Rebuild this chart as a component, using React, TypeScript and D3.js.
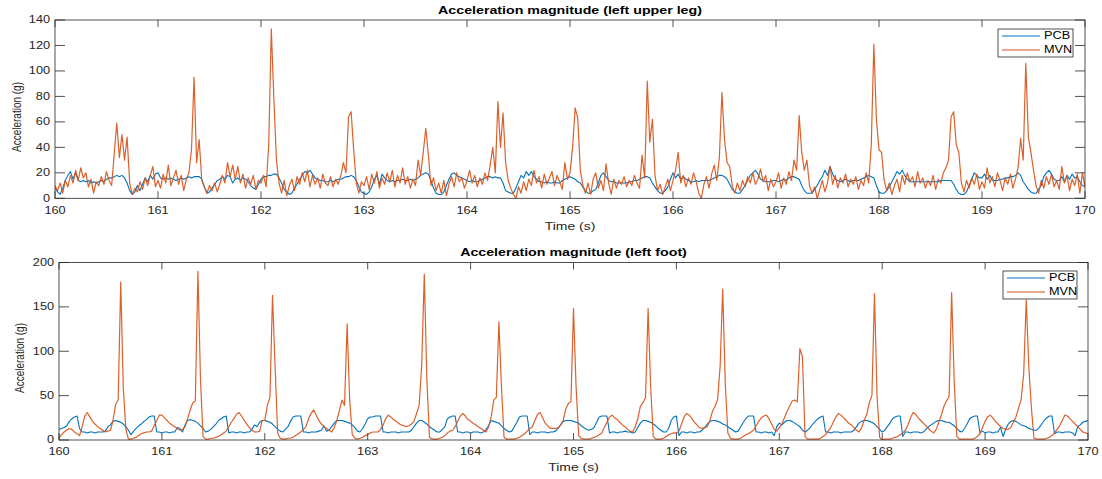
import React from 'react';
import * as d3 from 'd3';

// Sampling: 401 samples from 160 s to 170 s, 0.025 s apart.
const T0 = 160;
const T1 = 170;
const DT = 0.025;

const timeTicks = [160, 161, 162, 163, 164, 165, 166, 167, 168, 169, 170];
const upperLegTicks = [0, 20, 40, 60, 80, 100, 120, 140];
const footTicks = [0, 50, 100, 150, 200];
const seriesNames = ['PCB', 'MVN'];

// Left upper leg, acceleration magnitude (g) — one row per second.
const upperLegPcb = [
  8, 5, 3, 8, 14, 18, 21, 15, 20, 14, 13, 14, 13, 14, 12, 13, 12, 13, 14, 13, 15, 16, 16, 17, 18, 17, 18, 16, 12, 6, 3, 5, 10, 6, 11, 16, 13, 18, 15, 19,
  20, 16, 15, 16, 15, 16, 15, 14, 15, 16, 15, 16, 17, 16, 17, 17, 17, 15, 9, 4, 5, 8, 11, 14, 15, 17, 15, 18, 17, 12, 15, 16, 14, 16, 15, 13, 10, 8, 7, 11,
  15, 17, 17, 18, 18, 19, 19, 16, 12, 7, 5, 3, 4, 8, 11, 15, 18, 21, 20, 22, 19, 16, 15, 14, 14, 13, 13, 14, 13, 14, 15, 15, 16, 17, 17, 18, 17, 14, 9, 5,
  4, 3, 5, 9, 15, 18, 11, 19, 16, 14, 13, 14, 13, 14, 14, 15, 14, 14, 15, 14, 15, 16, 18, 19, 20, 19, 14, 8, 4, 3, 3, 5, 10, 15, 19, 20, 18, 17, 16, 15,
  14, 13, 14, 13, 13, 14, 15, 16, 17, 17, 16, 17, 16, 16, 12, 6, 5, 4, 4, 8, 13, 18, 16, 21, 18, 21, 17, 15, 13, 13, 12, 13, 12, 12, 13, 12, 12, 14, 15, 16,
  17, 16, 15, 13, 12, 9, 6, 4, 4, 6, 7, 12, 18, 20, 17, 14, 13, 13, 12, 12, 12, 12, 12, 13, 13, 14, 14, 15, 16, 17, 17, 16, 12, 9, 6, 4, 4, 6, 9, 15,
  20, 16, 19, 15, 17, 15, 14, 13, 13, 14, 13, 14, 14, 14, 14, 15, 16, 17, 18, 18, 17, 15, 11, 7, 5, 4, 4, 7, 10, 14, 18, 20, 22, 19, 15, 14, 13, 13, 13, 14,
  14, 13, 14, 15, 14, 16, 17, 17, 16, 15, 10, 6, 4, 4, 4, 7, 10, 14, 17, 22, 18, 25, 19, 15, 14, 13, 14, 15, 14, 13, 14, 14, 14, 15, 16, 17, 18, 17, 16, 10,
  5, 4, 4, 6, 9, 13, 17, 21, 19, 22, 18, 15, 13, 13, 13, 13, 13, 13, 13, 13, 13, 13, 13, 13, 14, 14, 14, 14, 14, 11, 7, 4, 3, 3, 5, 10, 15, 20, 18, 16,
  16, 19, 15, 18, 14, 14, 14, 15, 15, 16, 16, 17, 17, 18, 20, 18, 13, 10, 7, 5, 4, 4, 7, 10, 17, 20, 22, 19, 15, 14, 14, 17, 13, 18, 15, 19, 16, 17, 13, 10,
  9,
];

const upperLegMvn = [
  10, 6, 12, 4, 14, 9, 18, 12, 22, 14, 24, 16, 20, 9, 15, 4, 13, 10, 17, 11, 21, 14, 10, 35, 59, 32, 50, 30, 48, 12, 3, 8, 5, 13, 7, 16, 10, 18, 25, 9,
  14, 8, 19, 12, 26, 10, 16, 22, 11, 18, 6, 15, 20, 38, 95, 28, 46, 14, 9, 4, 10, 6, 12, 5, 11, 18, 12, 28, 17, 26, 15, 25, 12, 19, 8, 16, 11, 18, 7, 14,
  12, 18, 9, 42, 133, 78, 30, 12, 4, 14, 2, 10, 15, 6, 17, 11, 20, 13, 22, 9, 18, 11, 16, 8, 19, 12, 10, 17, 9, 15, 11, 18, 28, 20, 64, 68, 38, 12, 4, 13,
  10, 17, 7, 19, 12, 21, 8, 16, 11, 20, 13, 22, 9, 18, 12, 24, 11, 17, 8, 15, 10, 30, 18, 36, 55, 34, 10, 16, 6, 12, 4, 14, 2, 11, 17, 9, 20, 13, 16, 8,
  14, 22, 12, 18, 9, 16, 11, 20, 14, 26, 40, 20, 76, 40, 67, 28, 14, 8, 3, 0, 9, 4, 13, 6, 15, 10, 22, 12, 17, 8, 19, 11, 16, 21, 10, 18, 13, 7, 28, 15,
  20, 40, 71, 63, 22, 10, 4, 12, 3, 15, 20, 8, 14, 6, 27, 12, 3, 15, 8, 14, 11, 17, 9, 14, 10, 18, 12, 8, 34, 16, 92, 44, 62, 18, 6, 11, 3, 9, 15, 6,
  14, 22, 36, 12, 18, 9, 16, 11, 20, 13, 4, 0, 11, 17, 8, 19, 26, 14, 32, 83, 46, 28, 25, 10, 4, 12, 6, 14, 9, 17, 12, 20, 11, 15, 23, 13, 18, 6, 15, 9,
  13, 20, 8, 16, 11, 21, 14, 30, 22, 65, 36, 22, 30, 10, 4, 9, 0, 7, 14, 5, 12, 25, 11, 18, 8, 16, 12, 19, 9, 15, 11, 17, 7, 14, 10, 20, 12, 42, 121, 62,
  38, 36, 14, 6, 12, 3, 10, 15, 5, 18, 11, 20, 13, 17, 9, 21, 12, 16, 8, 14, 10, 18, 7, 15, 12, 20, 24, 30, 64, 68, 42, 36, 12, 5, 14, 8, 16, 11, 19, 7,
  13, 8, 24, 12, 17, 9, 20, 14, 6, 16, 11, 19, 8, 15, 24, 47, 30, 106, 48, 36, 22, 10, 4, 14, 8, 17, 11, 19, 9, 14, 7, 25, 12, 18, 6, 15, 10, 19, 4, 20,
  9,
];

// Left foot, acceleration magnitude (g) — one row per second.
const footPcb = [
  12, 13, 14, 16, 21, 24, 26, 27, 13, 9, 9, 8, 9, 9, 8, 9, 9, 9, 10, 15, 17, 21, 22, 21, 20, 18, 15, 11, 6, 10, 13, 16, 18, 21, 23, 26, 27, 27, 9, 9,
  8, 9, 9, 8, 9, 9, 14, 13, 9, 17, 22, 23, 22, 21, 19, 16, 13, 9, 10, 12, 15, 18, 22, 24, 26, 27, 8, 9, 9, 8, 9, 9, 8, 9, 9, 12, 17, 15, 20, 22,
  22, 21, 20, 18, 15, 12, 10, 9, 12, 15, 21, 26, 27, 27, 27, 9, 9, 8, 9, 9, 9, 10, 11, 16, 10, 11, 15, 19, 22, 22, 22, 21, 20, 19, 17, 14, 10, 9, 13, 18,
  24, 26, 26, 27, 27, 27, 9, 9, 8, 9, 9, 9, 8, 9, 9, 9, 9, 11, 15, 19, 22, 22, 20, 18, 15, 13, 11, 9, 9, 12, 15, 24, 26, 27, 27, 9, 9, 8, 9, 9,
  8, 9, 9, 9, 8, 9, 12, 16, 22, 21, 20, 19, 16, 13, 11, 9, 10, 15, 20, 26, 27, 27, 27, 6, 9, 9, 8, 9, 9, 9, 8, 9, 9, 10, 13, 17, 21, 22, 22, 22,
  21, 20, 19, 16, 14, 12, 11, 12, 14, 20, 26, 27, 27, 27, 8, 9, 9, 8, 9, 9, 10, 9, 9, 8, 9, 14, 19, 22, 22, 21, 20, 18, 16, 13, 11, 9, 9, 13, 22, 26,
  27, 5, 9, 9, 8, 9, 9, 8, 9, 9, 11, 14, 18, 21, 22, 22, 21, 20, 18, 17, 15, 13, 11, 9, 10, 15, 20, 24, 27, 27, 27, 9, 9, 8, 9, 9, 8, 9, 5, 15,
  19, 17, 20, 22, 22, 21, 19, 17, 15, 11, 9, 11, 14, 18, 21, 24, 26, 27, 9, 9, 8, 9, 9, 9, 8, 9, 9, 9, 9, 11, 15, 19, 21, 22, 22, 21, 20, 18, 15, 12,
  9, 11, 15, 19, 24, 26, 27, 27, 4, 9, 9, 8, 9, 9, 9, 8, 9, 12, 15, 17, 19, 21, 22, 22, 21, 20, 20, 18, 16, 13, 10, 9, 13, 18, 24, 26, 27, 27, 8, 10,
  8, 9, 9, 8, 9, 9, 14, 4, 12, 18, 21, 22, 21, 19, 17, 16, 15, 13, 12, 11, 11, 14, 18, 22, 25, 27, 27, 7, 9, 9, 8, 9, 9, 9, 8, 5, 15, 17, 20, 21,
  22,
];

const footMvn = [
  2, 6, 9, 11, 13, 12, 9, 7, 5, 15, 27, 31, 26, 21, 18, 15, 13, 11, 9, 10, 11, 22, 40, 45, 178, 58, 12, 1, 1, 2, 3, 5, 7, 8, 9, 9, 10, 16, 22, 28,
  28, 25, 22, 19, 17, 15, 13, 11, 12, 15, 24, 34, 42, 44, 190, 68, 4, 1, 1, 2, 2, 3, 4, 6, 8, 10, 15, 20, 24, 29, 31, 27, 22, 18, 14, 11, 9, 9, 10, 22,
  22, 39, 48, 163, 83, 8, 2, 1, 1, 2, 2, 3, 5, 7, 9, 12, 15, 24, 30, 34, 28, 22, 18, 15, 13, 11, 9, 14, 22, 33, 45, 39, 131, 45, 6, 2, 1, 2, 3, 5,
  6, 8, 9, 9, 9, 12, 17, 24, 28, 26, 23, 21, 19, 17, 16, 15, 16, 18, 21, 30, 39, 85, 187, 68, 3, 1, 1, 1, 2, 3, 5, 8, 10, 11, 15, 21, 27, 30, 27, 23,
  21, 19, 17, 15, 13, 11, 9, 15, 26, 45, 48, 133, 60, 3, 1, 1, 1, 1, 2, 3, 5, 7, 10, 13, 15, 22, 29, 31, 25, 19, 16, 13, 13, 13, 14, 17, 22, 35, 41, 43,
  148, 60, 5, 2, 1, 1, 1, 2, 3, 4, 6, 8, 14, 20, 26, 28, 25, 23, 20, 17, 15, 12, 10, 9, 15, 24, 38, 42, 48, 148, 60, 4, 1, 1, 1, 2, 4, 6, 7, 8,
  8, 10, 18, 26, 30, 28, 24, 20, 17, 14, 13, 14, 15, 22, 32, 38, 45, 83, 170, 64, 8, 2, 1, 1, 1, 2, 4, 6, 7, 9, 11, 16, 21, 25, 27, 28, 24, 18, 12, 10,
  14, 18, 25, 32, 38, 44, 45, 43, 103, 94, 4, 1, 1, 1, 1, 1, 2, 4, 6, 10, 14, 20, 26, 30, 28, 25, 22, 19, 17, 14, 11, 9, 14, 22, 29, 42, 50, 165, 49, 3,
  0, 1, 1, 1, 2, 3, 4, 6, 8, 11, 17, 25, 31, 29, 25, 22, 19, 16, 13, 10, 8, 12, 20, 28, 38, 44, 49, 166, 66, 4, 1, 1, 1, 1, 1, 1, 2, 4, 7, 14,
  21, 26, 28, 25, 21, 18, 15, 13, 12, 12, 14, 20, 26, 36, 45, 75, 158, 82, 36, 2, 1, 1, 1, 1, 2, 3, 5, 8, 12, 16, 22, 28, 27, 24, 21, 18, 15, 12, 9, 8,
  7,
];

const COLORS = ['#0072BD', '#D95319'];
const AXIS = '#262626';
const FONT = '"Liberation Sans", Arial, Helvetica, sans-serif';
// Horizontal text stretch of the figure.
const SX = 1.27;

type Box = { left: number; right: number; top: number; bottom: number };

function SText(props: {
  x: number; y: number; anchor?: 'start' | 'middle' | 'end'; size: number;
  weight?: string | number; rotate?: boolean; children: React.ReactNode; fill?: string;
}) {
  const { x, y, anchor = 'middle', size, weight = 'normal', rotate = false, children, fill = AXIS } = props;
  const tr = `translate(${x},${y}) scale(${SX},1)${rotate ? ' rotate(-90)' : ''}`;
  return (
    <text
      transform={tr}
      textAnchor={anchor}
      dominantBaseline="central"
      fontFamily={FONT}
      fontSize={size}
      fontWeight={weight}
      fill={fill}
    >
      {children}
    </text>
  );
}

function Panel(props: {
  title: string; pcb: number[]; mvn: number[]; yMax: number; yTicks: number[];
  box: Box; legend: { x: number; y: number; w: number; h: number };
  yLabelX: number; yLabelY: number;
}) {
  const { title, pcb, mvn, yMax, yTicks, box, legend, yLabelX, yLabelY } = props;
  const x = d3.scaleLinear().domain([T0, T1]).range([box.left, box.right]);
  const y = d3.scaleLinear().domain([0, yMax]).range([box.bottom, box.top]);
  const line = d3
    .line<number>()
    .x((_, i) => x(T0 + i * DT))
    .y((d) => y(d));
  const clipId = `clip-${Math.round(box.top)}`;
  const cx = (box.left + box.right) / 2;
  const xTickLen = 7;
  const yTickLen = 10;
  const rowH = legend.h / 2;

  return (
    <g>
      <defs>
        <clipPath id={clipId}>
          <rect x={box.left} y={box.top} width={box.right - box.left} height={box.bottom - box.top} />
        </clipPath>
      </defs>
      <rect x={box.left} y={box.top} width={box.right - box.left} height={box.bottom - box.top} fill="#fff" />
      <g clipPath={`url(#${clipId})`}>
        <path d={line(pcb) || ''} fill="none" stroke={COLORS[0]} strokeWidth={1.1} strokeLinejoin="round" />
        <path d={line(mvn) || ''} fill="none" stroke={COLORS[1]} strokeWidth={1.2} strokeLinejoin="round" strokeOpacity={0.92} />
      </g>
      {/* frame and inward ticks */}
      <rect x={box.left} y={box.top} width={box.right - box.left} height={box.bottom - box.top} fill="none" stroke={AXIS} strokeWidth={0.8} />
      {timeTicks.map((t) => (
        <g key={`xt${t}`}>
          <line x1={x(t)} x2={x(t)} y1={box.bottom} y2={box.bottom - xTickLen} stroke={AXIS} strokeWidth={0.8} />
          <line x1={x(t)} x2={x(t)} y1={box.top} y2={box.top + xTickLen} stroke={AXIS} strokeWidth={0.8} />
          <SText x={x(t)} y={box.bottom + 12} size={10}>{t}</SText>
        </g>
      ))}
      {yTicks.map((v) => (
        <g key={`yt${v}`}>
          <line x1={box.left} x2={box.left + yTickLen} y1={y(v)} y2={y(v)} stroke={AXIS} strokeWidth={0.8} />
          <line x1={box.right} x2={box.right - yTickLen} y1={y(v)} y2={y(v)} stroke={AXIS} strokeWidth={0.8} />
          <SText x={box.left - 5} y={y(v)} anchor="end" size={10}>{v}</SText>
        </g>
      ))}
      <SText x={cx} y={box.top - 10} size={11.2} weight="bold" fill="#000">{title}</SText>
      <SText x={cx} y={box.bottom + 28} size={11}>Time (s)</SText>
      <SText x={yLabelX} y={yLabelY} size={10} rotate>Acceleration (g)</SText>
      {/* legend */}
      <rect x={legend.x} y={legend.y} width={legend.w} height={legend.h} fill="#fff" stroke={AXIS} strokeWidth={0.8} />
      {seriesNames.map((name, i) => {
        const ry = legend.y + rowH * (i + 0.5);
        return (
          <g key={name}>
            <line x1={legend.x + 4} x2={legend.x + 42} y1={ry} y2={ry} stroke={COLORS[i]} strokeWidth={1.1} />
            <SText x={legend.x + 46} y={ry} anchor="start" size={10} fill="#000">{name}</SText>
          </g>
        );
      })}
    </g>
  );
}

export default function App() {
  return (
    <svg
      width={1102}
      height={479}
      viewBox="0 0 1102 479"
      style={{ position: 'absolute', left: 0, top: 0, background: '#fff' }}
    >
      <rect width={1102} height={479} fill="#fff" />
      <Panel
        title="Acceleration magnitude (left upper leg)"
        pcb={upperLegPcb}
        mvn={upperLegMvn}
        yMax={140}
        yTicks={upperLegTicks}
        box={{ left: 55, right: 1085, top: 20, bottom: 198.3 }}
        legend={{ x: 998, y: 29, w: 75, h: 28 }}
        yLabelX={16.5}
        yLabelY={117}
      />
      <Panel
        title="Acceleration magnitude (left foot)"
        pcb={footPcb}
        mvn={footMvn}
        yMax={200}
        yTicks={footTicks}
        box={{ left: 59, right: 1088, top: 262.5, bottom: 440 }}
        legend={{ x: 1003, y: 271, w: 74, h: 28 }}
        yLabelX={20}
        yLabelY={358}
      />
    </svg>
  );
}
